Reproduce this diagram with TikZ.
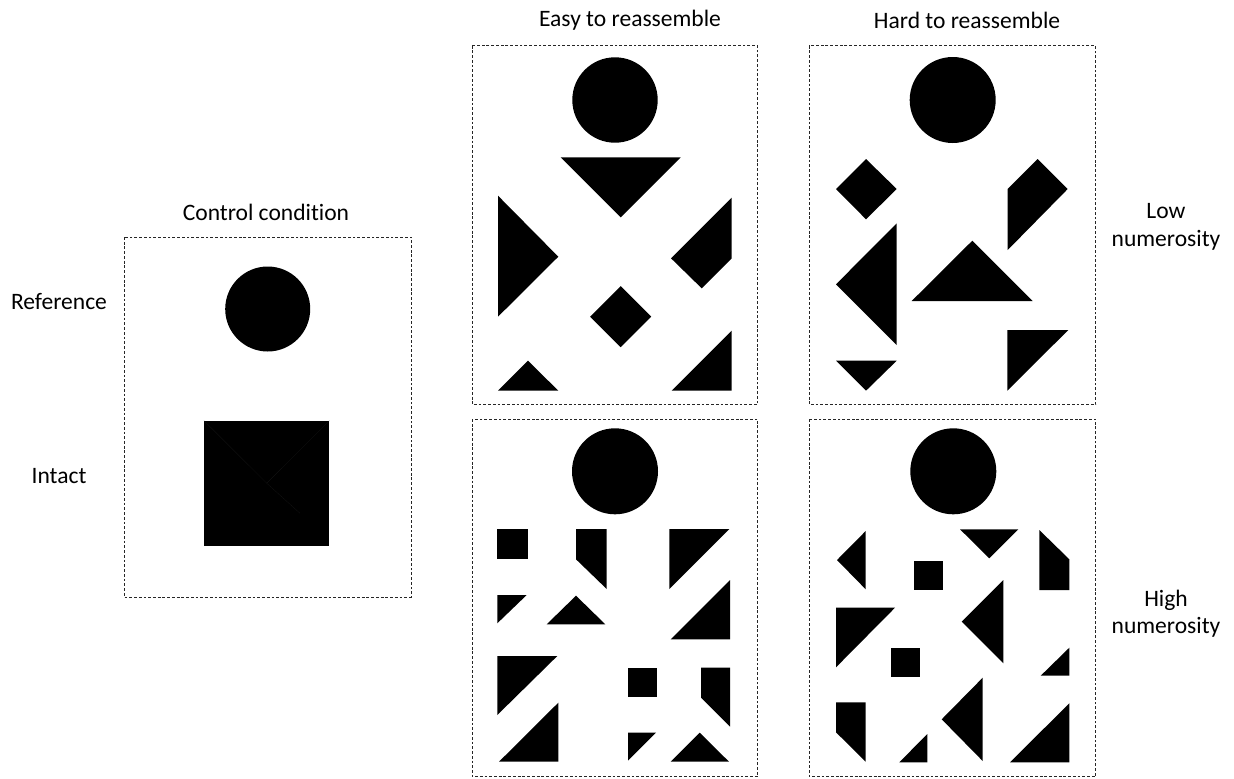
\documentclass[tikz,border=0pt]{standalone}
\usepackage{fontspec}
\setmainfont[Ligatures=NoCommon]{Carlito}
\usepackage{tikz}
\usetikzlibrary{positioning}

\begin{document}
\begin{tikzpicture}[
  x=0.02cm, y=-0.02cm,
  panel/.style={draw=black!85, dash pattern=on 1.6pt off 1.1pt, line width=0.5pt},
  piece/.style={fill=black},
  seam/.style={draw=black!92, line width=0.15pt},
  lbl/.style={font=\fontsize{13.4}{15.6}\selectfont, align=center, inner sep=0pt}
]
  \useasboundingbox (0,0) rectangle (1234,778);

  % column and row labels
  \node[lbl] (ctl)  at (266,212) {Control condition};
  \node[lbl] (easy) at (630,20)  {Easy to reassemble};
  \node[lbl] (hard) at (967,20)  {Hard to reassemble};
  \node[lbl] (ref)  at (59,302)  {Reference};
  \node[lbl] (int)  at (59,476)  {Intact};
  \node[lbl] (low)  at (1166,227) {Low\\numerosity};
  \node[lbl] (high) at (1166,614) {High\\numerosity};

  % panels
  \draw[panel] (124,237)   rectangle (411,597);
  \draw[panel] (472,45.7)  rectangle (757.7,404.3);
  \draw[panel] (809,45.7)  rectangle (1095.7,404.3);
  \draw[panel] (472,419)   rectangle (757.7,776.5);
  \draw[panel] (809,419)   rectangle (1095.7,776.5);

  % control: reference disc and intact square
  \fill[piece] (267.7,309) circle[radius=42.5];
  \fill[piece] (204,420.7) rectangle (329.3,545.7);
  \draw[seam] (204,420.7) -- (266.7,483.2) -- (329.3,420.7);
  \draw[seam] (266.7,483.2) -- (300,513.3);

  % easy, low numerosity
  \fill[piece] (615,100) circle[radius=42.7];
  \fill[piece] (560.7,157.3) -- (680.7,157.3) -- (620.7,217.3) -- cycle;
  \fill[piece] (498,195.7) -- (558.3,256.7) -- (498,316.7) -- cycle;
  \fill[piece] (731.7,197.7) -- (731.7,258.3) -- (701.7,288.3) -- (671,258.3) -- cycle;
  \fill[piece] (620.7,286.2) -- (651.2,316.7) -- (620.7,347.2) -- (590.2,316.7) -- cycle;
  \fill[piece] (498,390.7) -- (558.3,390.7) -- (528,360.7) -- cycle;
  \fill[piece] (671.7,390.7) -- (731.7,390.7) -- (731.7,330.7) -- cycle;

  % hard, low numerosity
  \fill[piece] (952.7,100) circle[radius=43];
  \fill[piece] (836,189) -- (866,159) -- (896.7,189) -- (866,219.3) -- cycle;
  \fill[piece] (1007.7,189) -- (1037.7,159) -- (1067.7,189) -- (1007.7,250) -- cycle;
  \fill[piece] (896.7,223.3) -- (896.7,345) -- (836,284.3) -- cycle;
  \fill[piece] (911.7,301) -- (1032.7,301) -- (972.3,240.7) -- cycle;
  \fill[piece] (1007.3,330) -- (1068.3,330) -- (1007.3,390.7) -- cycle;
  \fill[piece] (836,360.7) -- (896.7,360.7) -- (866,390.7) -- cycle;

  % easy, high numerosity
  \fill[piece] (615,471.3) circle[radius=43];
  \fill[piece] (497.3,529) rectangle (527.7,559.3);
  \fill[piece] (576,529) -- (606.7,529) -- (606.7,589) -- (576,559.3) -- cycle;
  \fill[piece] (669.3,529) -- (729.3,529) -- (669.3,589) -- cycle;
  \fill[piece] (497.3,595) -- (526.7,595) -- (497.3,623.3) -- cycle;
  \fill[piece] (546.7,624.3) -- (605.3,624.3) -- (576,595.7) -- cycle;
  \fill[piece] (670.7,639.3) -- (730,639.3) -- (730,580) -- cycle;
  \fill[piece] (497.3,656) -- (557.3,656) -- (497.3,715) -- cycle;
  \fill[piece] (499,761.7) -- (558.3,761.7) -- (558.3,702.7) -- cycle;
  \fill[piece] (628,667.7) rectangle (657.3,697);
  \fill[piece] (701,667.7) -- (730,667.7) -- (730,726.7) -- (701,697.7) -- cycle;
  \fill[piece] (628,732.7) -- (656,732.7) -- (628,760.7) -- cycle;
  \fill[piece] (670.7,761.7) -- (729,761.7) -- (699.7,732.7) -- cycle;

  % hard, high numerosity
  \fill[piece] (953.3,471.3) circle[radius=43];
  \fill[piece] (865.7,531) -- (865.7,589.3) -- (837,560) -- cycle;
  \fill[piece] (960,529.3) -- (1018.3,529.3) -- (989.3,558.3) -- cycle;
  \fill[piece] (1039.3,530) -- (1069.3,559.3) -- (1069.3,590) -- (1039.3,590) -- cycle;
  \fill[piece] (913.7,560.7) rectangle (943.3,590);
  \fill[piece] (836,607.7) -- (895,607.7) -- (836,667.3) -- cycle;
  \fill[piece] (1003.3,580) -- (1003.3,663.3) -- (961.7,621.7) -- cycle;
  \fill[piece] (890.7,647.7) rectangle (920,676.7);
  \fill[piece] (1069.3,647.7) -- (1069.3,675.7) -- (1040.7,675.7) -- cycle;
  \fill[piece] (836,702.3) -- (865.7,702.3) -- (865.7,761.7) -- (836,732.3) -- cycle;
  \fill[piece] (899.3,762.3) -- (927.3,762.3) -- (927.3,734) -- cycle;
  \fill[piece] (982.7,677.7) -- (982.7,761) -- (941.7,719.3) -- cycle;
  \fill[piece] (1010,762.3) -- (1069.3,762.3) -- (1069.3,703.3) -- cycle;
\end{tikzpicture}
\end{document}
